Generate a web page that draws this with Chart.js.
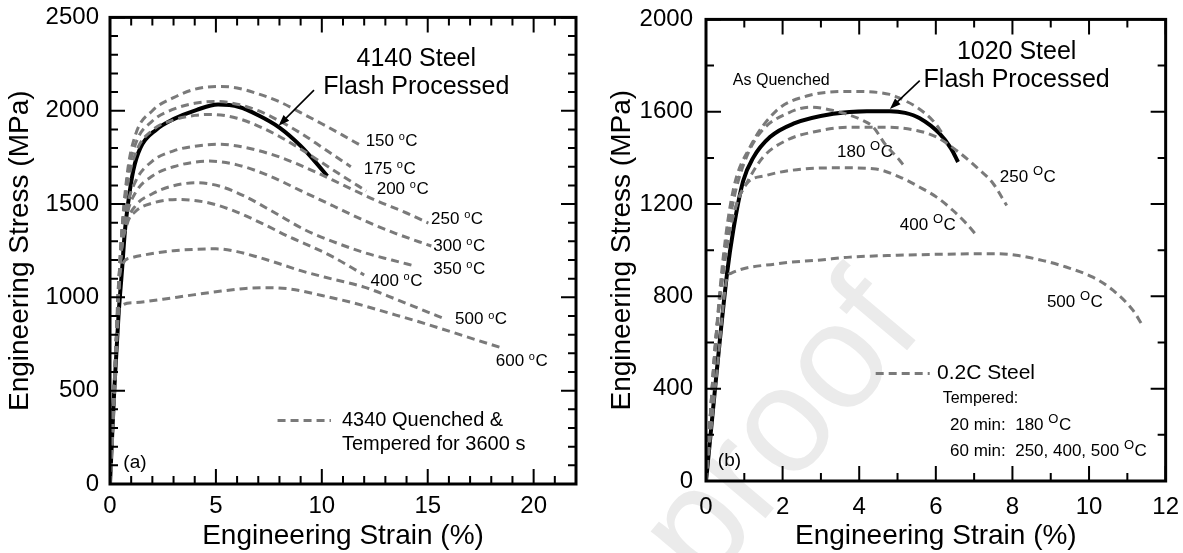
<!DOCTYPE html>
<html>
<head>
<meta charset="utf-8">
<script src="https://cdn.jsdelivr.net/npm/chart.js@4.4.1/dist/chart.umd.min.js"></script>
<style>
  html, body { margin: 0; padding: 0; background: #fff; }
  #wrap { position: relative; width: 1183px; height: 553px; overflow: hidden; }
  .panel { position: absolute; top: 0; }
  #panelA { left: 0; }
  #panelB { left: 590px; }
</style>
</head>
<body>
<div id="wrap">
  <div class="panel" id="panelA"><canvas id="chartA" width="590" height="553"></canvas></div>
  <div class="panel" id="panelB"><canvas id="chartB" width="593" height="553"></canvas></div>
</div>
<script>
// ---- panel (a): 4340 quenched & tempered 3600 s, plus 4140 flash processed ----
const xTicksA = [0, 5, 10, 15, 20];
const yTicksA = [0, 500, 1000, 1500, 2000, 2500];
const xMinorA = [0,1,2,3,4,5,6,7,8,9,10,11,12,13,14,15,16,17,18,19,20,21,22];
const yMinorA = [0,100,200,300,400,500,600,700,800,900,1000,1100,1200,1300,1400,1500,1600,1700,1800,1900,2000,2100,2200,2300,2400,2500];
const tempsA = ['150', '175', '200', '250', '300', '350', '400', '500', '600'];

const qt150 = [[0,0],[0.25,650],[0.5,1250],[0.8,1650],[1.2,1870],[2,2000],[3,2070],[4,2115],[5.2,2130],[6,2122],[7,2090],[8,2048],[9,1990],[10,1930],[11,1868],[11.82,1815]];
const qt175 = [[0,0],[0.25,650],[0.5,1250],[0.8,1620],[1.2,1820],[2,1945],[3,2008],[4,2040],[5,2050],[6,2035],[7,2000],[8,1945],[9,1880],[10,1805],[11.37,1700]];
const qt200 = [[0,0],[0.25,650],[0.5,1250],[0.8,1580],[1.2,1770],[2,1895],[3,1950],[4,1975],[4.8,1980],[6,1960],[7,1918],[8,1862],[9,1795],[10,1722],[11,1648],[12.1,1570]];
const qt250 = [[0,0],[0.25,650],[0.5,1200],[0.8,1480],[1.2,1620],[2,1730],[3,1785],[4,1810],[5.2,1820],[6.5,1800],[8,1752],[9.5,1682],[11,1602],[12.5,1522],[14,1452],[15.03,1398]];
const qt300 = [[0,0],[0.25,650],[0.5,1200],[0.8,1440],[1.2,1560],[2,1650],[3,1700],[4.7,1730],[6,1710],[7.5,1652],[9,1572],[10.5,1492],[12,1412],[13.5,1342],[15.17,1275]];
const qt350 = [[0,0],[0.25,650],[0.5,1200],[0.8,1400],[1.2,1490],[2,1555],[3,1598],[4.1,1614],[5.2,1595],[6.3,1545],[7.8,1452],[9.2,1362],[10.5,1300],[12,1240],[13.3,1200],[14.4,1168]];
const qt400 = [[0,0],[0.25,650],[0.5,1200],[0.8,1390],[1.2,1460],[2,1505],[3.2,1525],[4.5,1510],[5.7,1470],[7.2,1395],[8.5,1322],[9.3,1283],[10.5,1218],[12,1120]];
const qt500 = [[0,0],[0.2,500],[0.45,1130],[1,1212],[2,1235],[3,1250],[5,1260],[6,1245],[7,1215],[8,1180],[9,1143],[10.5,1098],[12,1055],[13.5,990],[14.7,935],[15.8,885]];
const qt600 = [[0,0],[0.2,450],[0.45,945],[1.1,972],[2.5,990],[3.6,1008],[5,1030],[6.4,1048],[7.5,1052],[8.5,1045],[10,1010],[11.5,970],[13.5,905],[15,855],[16.8,790],[18.45,731]];
const flash4140 = [[0,0],[0.2,500],[0.4,900],[0.57,1150],[0.7,1350],[0.85,1500],[1.1,1680],[1.43,1800],[2.2,1900],[3,1955],[4.1,2005],[5.1,2033],[6.1,2020],[7,1976],[8,1910],[9,1812],[9.6,1738],[10.26,1650]];

// ---- panel (b): 0.2C steel tempered, plus 1020 flash processed ----
const xTicksB = [0, 2, 4, 6, 8, 10, 12];
const yTicksB = [0, 400, 800, 1200, 1600, 2000];
const xMinorB = [0,1,2,3,4,5,6,7,8,9,10,11,12];
const yMinorB = [0,200,400,600,800,1000,1200,1400,1600,1800,2000];
const tempsB = ['180', '250', '400', '500'];

const asQuenched = [[0,0],[0.25,600],[0.45,970],[0.71,1260],[1.15,1447],[1.84,1605],[2.63,1668],[3.76,1688],[4.8,1675],[5.06,1658],[5.5,1620],[5.93,1560],[6.2,1500]];
const t180 = [[0,0],[0.25,600],[0.5,1000],[0.75,1240],[1.1,1420],[1.5,1525],[2.1,1591],[2.71,1620],[3.32,1605],[4.1,1562],[4.37,1533],[4.67,1461],[5.06,1389],[5.15,1370]];
const t250 = [[0,0],[0.25,600],[0.55,1020],[0.8,1200],[1.06,1290],[1.49,1403],[2.1,1476],[2.8,1512],[3.76,1533],[4.62,1533],[5.5,1519],[6.02,1490],[6.54,1432],[7.06,1360],[7.5,1288],[7.85,1194]];
const t400 = [[0,0],[0.25,600],[0.55,1020],[0.8,1200],[1.06,1288],[1.58,1324],[2.37,1349],[3.5,1357],[4.37,1353],[5.06,1317],[5.58,1273],[6.02,1230],[6.45,1172],[6.8,1115],[7.1,1057]];
const t500 = [[0,0],[0.3,500],[0.55,880],[0.65,900],[1.84,941],[3,958],[3.76,970],[5,978],[6,982],[7.5,985],[8.1,978],[8.8,955],[9.4,927],[10.1,883],[10.63,826],[11.15,739],[11.37,681]];
const flash1020 = [[0,0],[0.55,900],[0.71,1085],[0.97,1300],[1.23,1400],[1.67,1490],[2.28,1548],[3.32,1591],[4.2,1602],[4.8,1602],[5.2,1595],[5.58,1572],[6.1,1505],[6.4,1440],[6.58,1382]];

const FONT = "'Liberation Sans', Arial, sans-serif";
const GREY = '#7a7a7a';

function toXY(pairs) {
    return pairs.map(p => ({ x: p[0], y: p[1] }));
}

function dashed(label, pairs) {
    return {
        label, data: toXY(pairs),
        borderColor: GREY, borderWidth: 3, borderDash: [8, 5],
        pointRadius: 0, cubicInterpolationMode: 'monotone', fill: false
    };
}

function solid(label, pairs) {
    return {
        label, data: toXY(pairs),
        borderColor: '#000', borderWidth: 4,
        pointRadius: 0, cubicInterpolationMode: 'monotone', fill: false
    };
}

function axes(o) {
    return {
        x: {
            type: 'linear', min: 0, max: o.xMax,
            grid: { display: false }, border: { display: false },
            afterBuildTicks: s => { s.ticks = o.xTicks.map(v => ({ value: v })); },
            afterFit: s => { s.height = o.xHeight; },
            ticks: { color: '#000', font: { family: FONT, size: 24 }, padding: o.xPad, maxRotation: 0, autoSkip: false, callback: v => String(v) },
            title: { display: true, text: 'Engineering Strain (%)', color: '#000', font: { family: FONT, size: 28 }, padding: { top: 0, bottom: 0 } }
        },
        y: {
            type: 'linear', min: 0, max: o.yMax,
            grid: { display: false }, border: { display: false },
            afterBuildTicks: s => { s.ticks = o.yTicks.map(v => ({ value: v })); },
            afterFit: s => { s.width = o.yWidth; },
            ticks: { color: '#000', font: { family: FONT, size: 24 }, padding: o.yPad, autoSkip: false, callback: v => String(v) },
            title: { display: true, text: 'Engineering Stress (MPa)', color: '#000', font: { family: FONT, size: 28 }, padding: { top: o.yTitlePad, bottom: 0 } }
        }
    };
}

// temperature label with a raised degree mark
function drawTemp(ctx, x, y, text, deg) {
    ctx.textAlign = 'left';
    ctx.textBaseline = 'middle';
    ctx.font = deg.size + 'px ' + FONT;
    ctx.fillText(text + ' ', x, y);
    let w = ctx.measureText(text + ' ').width;
    ctx.font = deg.supSize + 'px ' + FONT;
    ctx.fillText(deg.sup, x + w, y - deg.rise);
    w += ctx.measureText(deg.sup).width + 0.5;
    ctx.font = deg.size + 'px ' + FONT;
    ctx.fillText('C', x + w, y);
}

function drawArrow(ctx, x0, y0, x1, y1) {
    const ang = Math.atan2(y1 - y0, x1 - x0);
    const hl = 11, hw = 4;
    ctx.lineWidth = 1.6;
    ctx.beginPath();
    ctx.moveTo(x0, y0);
    ctx.lineTo(x1 - Math.cos(ang) * hl * 0.8, y1 - Math.sin(ang) * hl * 0.8);
    ctx.stroke();
    ctx.beginPath();
    ctx.moveTo(x1, y1);
    ctx.lineTo(x1 - hl * Math.cos(ang) + hw * Math.sin(ang), y1 - hl * Math.sin(ang) - hw * Math.cos(ang));
    ctx.lineTo(x1 - hl * Math.cos(ang) - hw * Math.sin(ang), y1 - hl * Math.sin(ang) + hw * Math.cos(ang));
    ctx.closePath();
    ctx.fill();
}

function decor(cfg) {
    return {
        id: 'decor',
        beforeDraw(chart) {
            if (cfg.watermark) cfg.watermark(chart.ctx);
        },
        afterDatasetsDraw(chart) {
            const { ctx, chartArea: a, scales: { x, y } } = chart;
            const X = v => x.getPixelForValue(v), Y = v => y.getPixelForValue(v);
            ctx.save();
            ctx.strokeStyle = '#000';
            ctx.fillStyle = '#000';

            // inward ticks on all four sides
            ctx.lineWidth = 2;
            ctx.beginPath();
            cfg.xMinor.forEach(v => {
                const len = cfg.xMajor.includes(v) ? 15 : 8, px = X(v);
                ctx.moveTo(px, a.bottom); ctx.lineTo(px, a.bottom - len);
                ctx.moveTo(px, a.top); ctx.lineTo(px, a.top + len);
            });
            cfg.yMinor.forEach(v => {
                const len = cfg.yMajor.includes(v) ? 15 : 8, py = Y(v);
                ctx.moveTo(a.left, py); ctx.lineTo(a.left + len, py);
                ctx.moveTo(a.right, py); ctx.lineTo(a.right - len, py);
            });
            ctx.stroke();
            ctx.lineWidth = 3;
            ctx.strokeRect(a.left, a.top, a.right - a.left, a.bottom - a.top);

            // plain texts
            ctx.textBaseline = 'middle';
            cfg.texts.forEach(t => {
                ctx.font = t.size + 'px ' + FONT;
                ctx.textAlign = t.align || 'left';
                ctx.fillText(t.text, X(t.x), Y(t.y));
            });
            // temperature labels
            cfg.temps.forEach(t => drawTemp(ctx, X(t.x), Y(t.y), t.text, cfg.deg));
            // arrows
            cfg.arrows.forEach(r => drawArrow(ctx, X(r[0]), Y(r[1]), X(r[2]), Y(r[3])));
            // legend sample line
            const lg = cfg.legend;
            ctx.strokeStyle = GREY;
            ctx.lineWidth = 3;
            ctx.setLineDash([8, 5]);
            ctx.beginPath();
            ctx.moveTo(X(lg.x0), Y(lg.y));
            ctx.lineTo(X(lg.x1), Y(lg.y));
            ctx.stroke();
            ctx.setLineDash([]);
            ctx.restore();
        }
    };
}

// ---------- chart (a) ----------
new Chart(document.getElementById('chartA').getContext('2d'), {
    type: 'line',
    data: {
        datasets: [
            dashed('150', qt150), dashed('175', qt175), dashed('200', qt200),
            dashed('250', qt250), dashed('300', qt300), dashed('350', qt350),
            dashed('400', qt400), dashed('500', qt500), dashed('600', qt600),
            solid('4140 Flash Processed', flash4140)
        ]
    },
    options: {
        responsive: false,
        animation: false,
        layout: { padding: { top: 16, right: 14, left: 0, bottom: 0 } },
        plugins: { legend: { display: false }, tooltip: { enabled: false } },
        scales: axes({ xMax: 22, yMax: 2500, xTicks: xTicksA, yTicks: yTicksA, xHeight: 69, yWidth: 110, xPad: 0, yPad: 3, yTitlePad: 3 })
    },
    plugins: [decor({
        xMajor: xTicksA, xMinor: xMinorA, yMajor: yTicksA, yMinor: yMinorA,
        deg: { size: 17, supSize: 11, sup: 'o', rise: 4 },
        texts: [
            { text: '4140 Steel', x: 14.46, y: 2275, size: 25, align: 'center' },
            { text: 'Flash Processed', x: 14.46, y: 2125, size: 25, align: 'center' },
            { text: '4340 Quenched &', x: 10.95, y: 340, size: 20 },
            { text: 'Tempered for 3600 s', x: 10.95, y: 211, size: 20 },
            { text: '(a)', x: 0.63, y: 115, size: 19 }
        ],
        temps: [
            { text: tempsA[0], x: 12.07, y: 1837 },
            { text: tempsA[1], x: 11.98, y: 1687 },
            { text: tempsA[2], x: 12.59, y: 1580 },
            { text: tempsA[3], x: 15.16, y: 1420 },
            { text: tempsA[4], x: 15.26, y: 1275 },
            { text: tempsA[5], x: 15.26, y: 1152 },
            { text: tempsA[6], x: 12.3, y: 1088 },
            { text: tempsA[7], x: 16.29, y: 880 },
            { text: tempsA[8], x: 18.21, y: 660 }
        ],
        arrows: [[9.63, 2110, 7.96, 1920]],
        legend: { x0: 7.91, x1: 10.43, y: 340 }
    })]
});

// ---------- chart (b) ----------
new Chart(document.getElementById('chartB').getContext('2d'), {
    type: 'line',
    data: {
        datasets: [
            dashed('As Quenched', asQuenched), dashed('180', t180), dashed('250', t250),
            dashed('400', t400), dashed('500', t500),
            solid('1020 Flash Processed', flash1020)
        ]
    },
    options: {
        responsive: false,
        animation: false,
        layout: { padding: { top: 19, right: 17, left: 0, bottom: 0 } },
        plugins: { legend: { display: false }, tooltip: { enabled: false } },
        scales: axes({ xMax: 12, yMax: 2000, xTicks: xTicksB, yTicks: yTicksB, xHeight: 72, yWidth: 116, xPad: 4, yPad: 5, yTitlePad: 15 })
    },
    plugins: [decor({
        xMajor: xTicksB, xMinor: xMinorB, yMajor: yTicksB, yMinor: yMinorB,
        deg: { size: 17, supSize: 13, sup: 'O', rise: 6 },
        texts: [
            { text: '1020 Steel', x: 8.11, y: 1860, size: 25, align: 'center' },
            { text: 'Flash Processed', x: 8.11, y: 1735, size: 25, align: 'center' },
            { text: 'As Quenched', x: 0.70, y: 1735, size: 16 },
            { text: '0.2C Steel', x: 6.03, y: 466, size: 21 },
            { text: 'Tempered:', x: 6.18, y: 357, size: 16 },
            { text: '(b)', x: 0.31, y: 89, size: 19 }
        ],
        temps: [
            { text: tempsB[0], x: 3.42, y: 1423 },
            { text: tempsB[1], x: 7.67, y: 1315 },
            { text: tempsB[2], x: 5.06, y: 1107 },
            { text: tempsB[3], x: 8.9, y: 773 },
            { text: '20 min:  180', x: 6.37, y: 240 },
            { text: '60 min:  250, 400, 500', x: 6.37, y: 128 }
        ],
        arrows: [[5.58, 1735, 4.8, 1612]],
        legend: { x0: 4.43, x1: 5.84, y: 466 },
        watermark: ctx => {
            ctx.save();
            ctx.translate(115, 590);
            ctx.rotate(-0.87);
            ctx.fillStyle = '#ebebeb';
            ctx.font = '150px ' + FONT;
            ctx.textBaseline = 'alphabetic';
            ctx.fillText('proof', 0, 0);
            ctx.restore();
        }
    })]
});
</script>
</body>
</html>
